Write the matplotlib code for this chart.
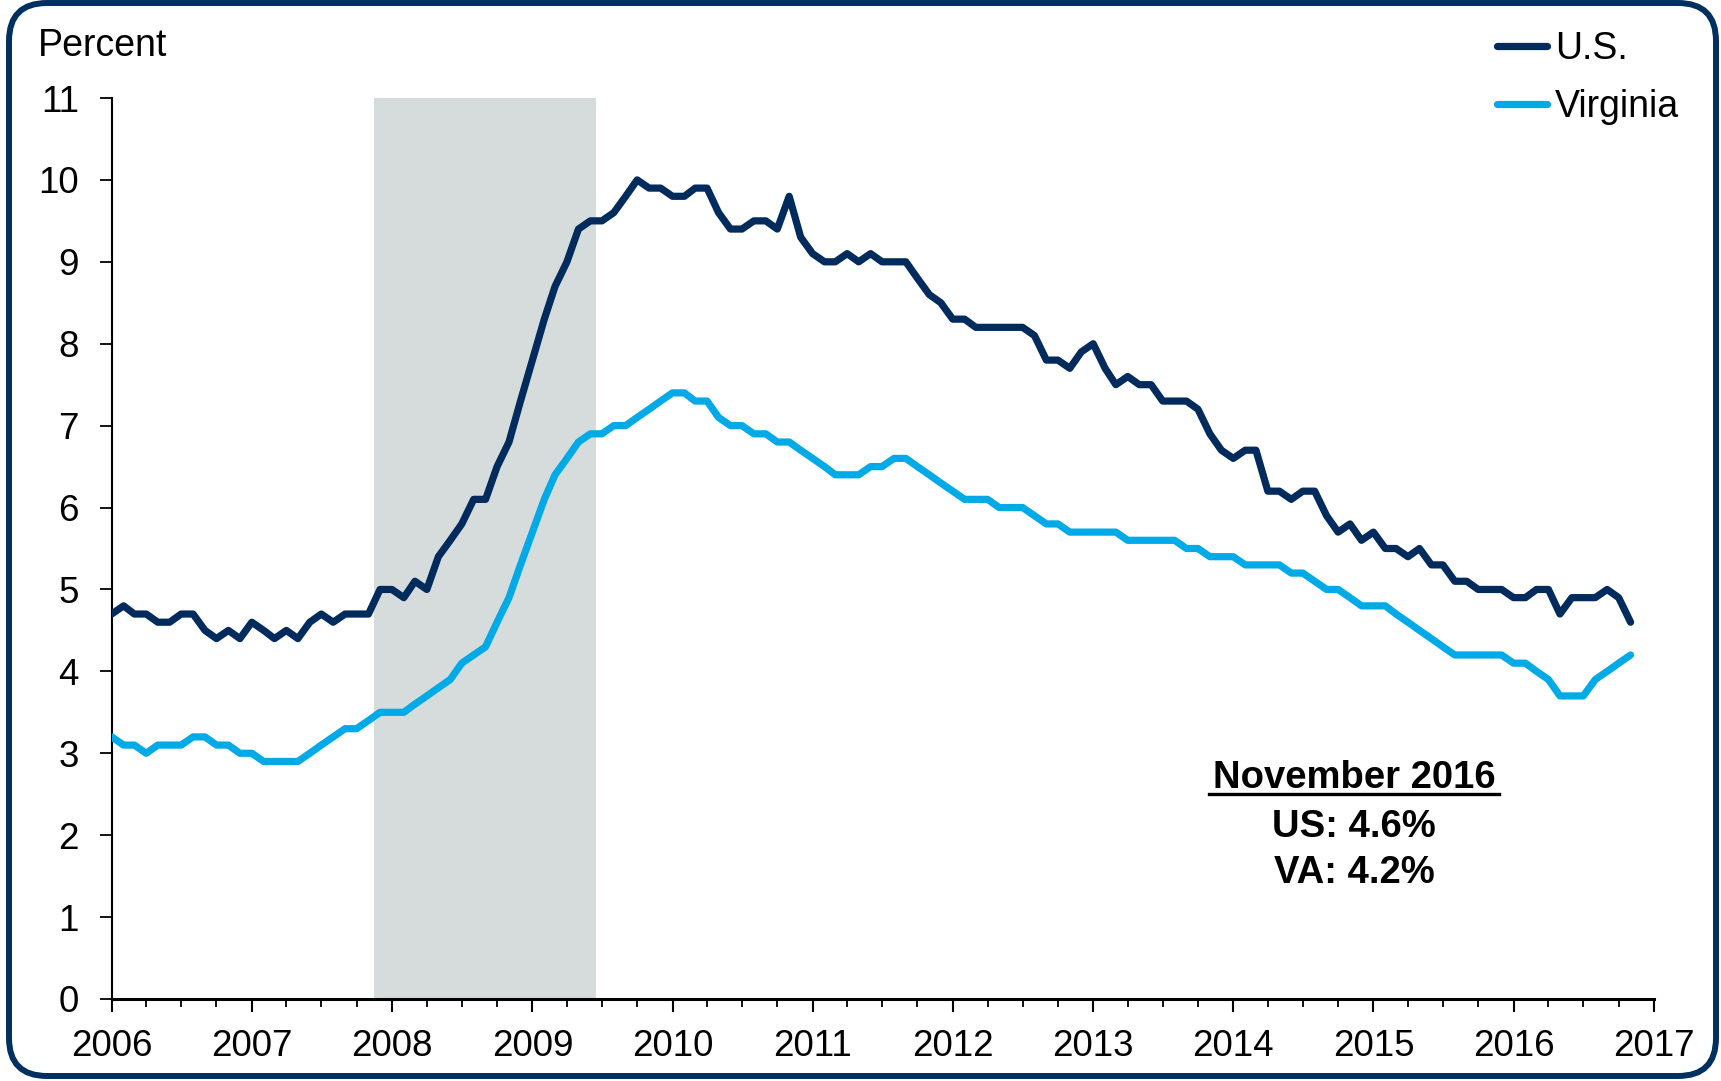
import numpy as np
import pandas as pd
import matplotlib
matplotlib.use("Agg")
import matplotlib.pyplot as plt
import matplotlib.dates as mdates
from matplotlib.patches import FancyBboxPatch
from matplotlib.lines import Line2D

# =========================
# DATA (monthly unemployment rate, percent, Jan 2006 - Nov 2016)
# =========================
us_rate = [
    4.7, 4.8, 4.7, 4.7, 4.6, 4.6, 4.7, 4.7, 4.5, 4.4, 4.5, 4.4,   # 2006
    4.6, 4.5, 4.4, 4.5, 4.4, 4.6, 4.7, 4.6, 4.7, 4.7, 4.7, 5.0,   # 2007
    5.0, 4.9, 5.1, 5.0, 5.4, 5.6, 5.8, 6.1, 6.1, 6.5, 6.8, 7.3,   # 2008
    7.8, 8.3, 8.7, 9.0, 9.4, 9.5, 9.5, 9.6, 9.8, 10.0, 9.9, 9.9,  # 2009
    9.8, 9.8, 9.9, 9.9, 9.6, 9.4, 9.4, 9.5, 9.5, 9.4, 9.8, 9.3,   # 2010
    9.1, 9.0, 9.0, 9.1, 9.0, 9.1, 9.0, 9.0, 9.0, 8.8, 8.6, 8.5,   # 2011
    8.3, 8.3, 8.2, 8.2, 8.2, 8.2, 8.2, 8.1, 7.8, 7.8, 7.7, 7.9,   # 2012
    8.0, 7.7, 7.5, 7.6, 7.5, 7.5, 7.3, 7.3, 7.3, 7.2, 6.9, 6.7,   # 2013
    6.6, 6.7, 6.7, 6.2, 6.2, 6.1, 6.2, 6.2, 5.9, 5.7, 5.8, 5.6,   # 2014
    5.7, 5.5, 5.5, 5.4, 5.5, 5.3, 5.3, 5.1, 5.1, 5.0, 5.0, 5.0,   # 2015
    4.9, 4.9, 5.0, 5.0, 4.7, 4.9, 4.9, 4.9, 5.0, 4.9, 4.6,        # 2016
]
va_rate = [
    3.2, 3.1, 3.1, 3.0, 3.1, 3.1, 3.1, 3.2, 3.2, 3.1, 3.1, 3.0,   # 2006
    3.0, 2.9, 2.9, 2.9, 2.9, 3.0, 3.1, 3.2, 3.3, 3.3, 3.4, 3.5,   # 2007
    3.5, 3.5, 3.6, 3.7, 3.8, 3.9, 4.1, 4.2, 4.3, 4.6, 4.9, 5.3,   # 2008
    5.7, 6.1, 6.4, 6.6, 6.8, 6.9, 6.9, 7.0, 7.0, 7.1, 7.2, 7.3,   # 2009
    7.4, 7.4, 7.3, 7.3, 7.1, 7.0, 7.0, 6.9, 6.9, 6.8, 6.8, 6.7,   # 2010
    6.6, 6.5, 6.4, 6.4, 6.4, 6.5, 6.5, 6.6, 6.6, 6.5, 6.4, 6.3,   # 2011
    6.2, 6.1, 6.1, 6.1, 6.0, 6.0, 6.0, 5.9, 5.8, 5.8, 5.7, 5.7,   # 2012
    5.7, 5.7, 5.7, 5.6, 5.6, 5.6, 5.6, 5.6, 5.5, 5.5, 5.4, 5.4,   # 2013
    5.4, 5.3, 5.3, 5.3, 5.3, 5.2, 5.2, 5.1, 5.0, 5.0, 4.9, 4.8,   # 2014
    4.8, 4.8, 4.7, 4.6, 4.5, 4.4, 4.3, 4.2, 4.2, 4.2, 4.2, 4.2,   # 2015
    4.1, 4.1, 4.0, 3.9, 3.7, 3.7, 3.7, 3.9, 4.0, 4.1, 4.2,        # 2016
]
months = pd.date_range("2006-01-01", periods=len(us_rate), freq="MS")

# recession shading (Dec 2007 - Jun 2009)
recession_start = pd.Timestamp("2007-11-16")
recession_end = pd.Timestamp("2009-06-16")

note_lines = ["November 2016", "US: 4.6%", "VA: 4.2%"]

US_COLOR = "#002B5C"
VA_COLOR = "#00AAE7"
BORDER_COLOR = "#00305F"

plt.rcParams["font.family"] = ["Liberation Sans", "DejaVu Sans"]

W, H = 1721, 1081
fig = plt.figure(figsize=(W / 100, H / 100), dpi=100)

# =========================
# ROUNDED BORDER
# =========================
bg = fig.add_axes([0, 0, 1, 1], zorder=-1)
bg.set_xlim(0, W)
bg.set_ylim(H, 0)
bg.axis("off")
bg.add_patch(FancyBboxPatch((9, 3), 1707, 1073,
                            boxstyle="round,pad=0,rounding_size=38",
                            fill=False, lw=4.3, edgecolor=BORDER_COLOR))

# =========================
# MAIN AXES
# =========================
ax = fig.add_axes([111.7 / W, 82 / H, (1654 - 111.7) / W, 901 / H])
ax.patch.set_alpha(0)

ax.axvspan(recession_start, recession_end, color="#D6DCDC", lw=0, zorder=0)
ax.plot(months, us_rate, color=US_COLOR, lw=5.2, label="U.S.",
        solid_capstyle="round", solid_joinstyle="round", zorder=3)
ax.plot(months, va_rate, color=VA_COLOR, lw=5.2, label="Virginia",
        solid_capstyle="round", solid_joinstyle="round", zorder=3)

ax.set_xlim(pd.Timestamp("2006-01-01"), pd.Timestamp("2017-01-01"))
ax.set_ylim(0, 11)
ax.set_yticks(range(0, 12))
ax.xaxis.set_major_locator(mdates.YearLocator())
ax.xaxis.set_major_formatter(mdates.DateFormatter("%Y"))
ax.xaxis.set_minor_locator(mdates.MonthLocator(bymonth=[4, 7, 10]))

for side in ["top", "right"]:
    ax.spines[side].set_visible(False)
ax.spines["left"].set_linewidth(1.5)
ax.spines["bottom"].set_linewidth(2.2)

ax.tick_params(axis="y", length=8.6, width=1.3, pad=15, labelsize=26.5)
ax.tick_params(axis="x", which="major", length=9.5, width=1.5, pad=12, labelsize=26.5)
ax.tick_params(axis="x", which="minor", length=5.5, width=1.3)

fig.text(38 / W, 1 - 55.5 / H, "Percent", fontsize=27, ha="left", va="baseline")

ax.legend(loc="upper left", bbox_to_anchor=(1497 / W, 1 - 31 / H),
          bbox_transform=fig.transFigure, frameon=False, fontsize=27,
          handlelength=1.33, handletextpad=0.22, labelspacing=0.59,
          borderpad=0, borderaxespad=0)

# =========================
# NOVEMBER 2016 NOTE
# =========================
baselines = [788, 837, 883]
texts = []
for line, yb in zip(note_lines, baselines):
    texts.append(fig.text(1354 / W, 1 - yb / H, line, fontsize=27.5,
                          fontweight="bold", ha="center", va="baseline"))

fig.canvas.draw()
bb = texts[0].get_window_extent().transformed(fig.transFigure.inverted())
fig.add_artist(Line2D([bb.x0 - 0.002, bb.x1 + 0.002], [1 - 794 / H] * 2,
                      transform=fig.transFigure, color="black", lw=2.4))

fig.savefig("out.png", dpi=100)
